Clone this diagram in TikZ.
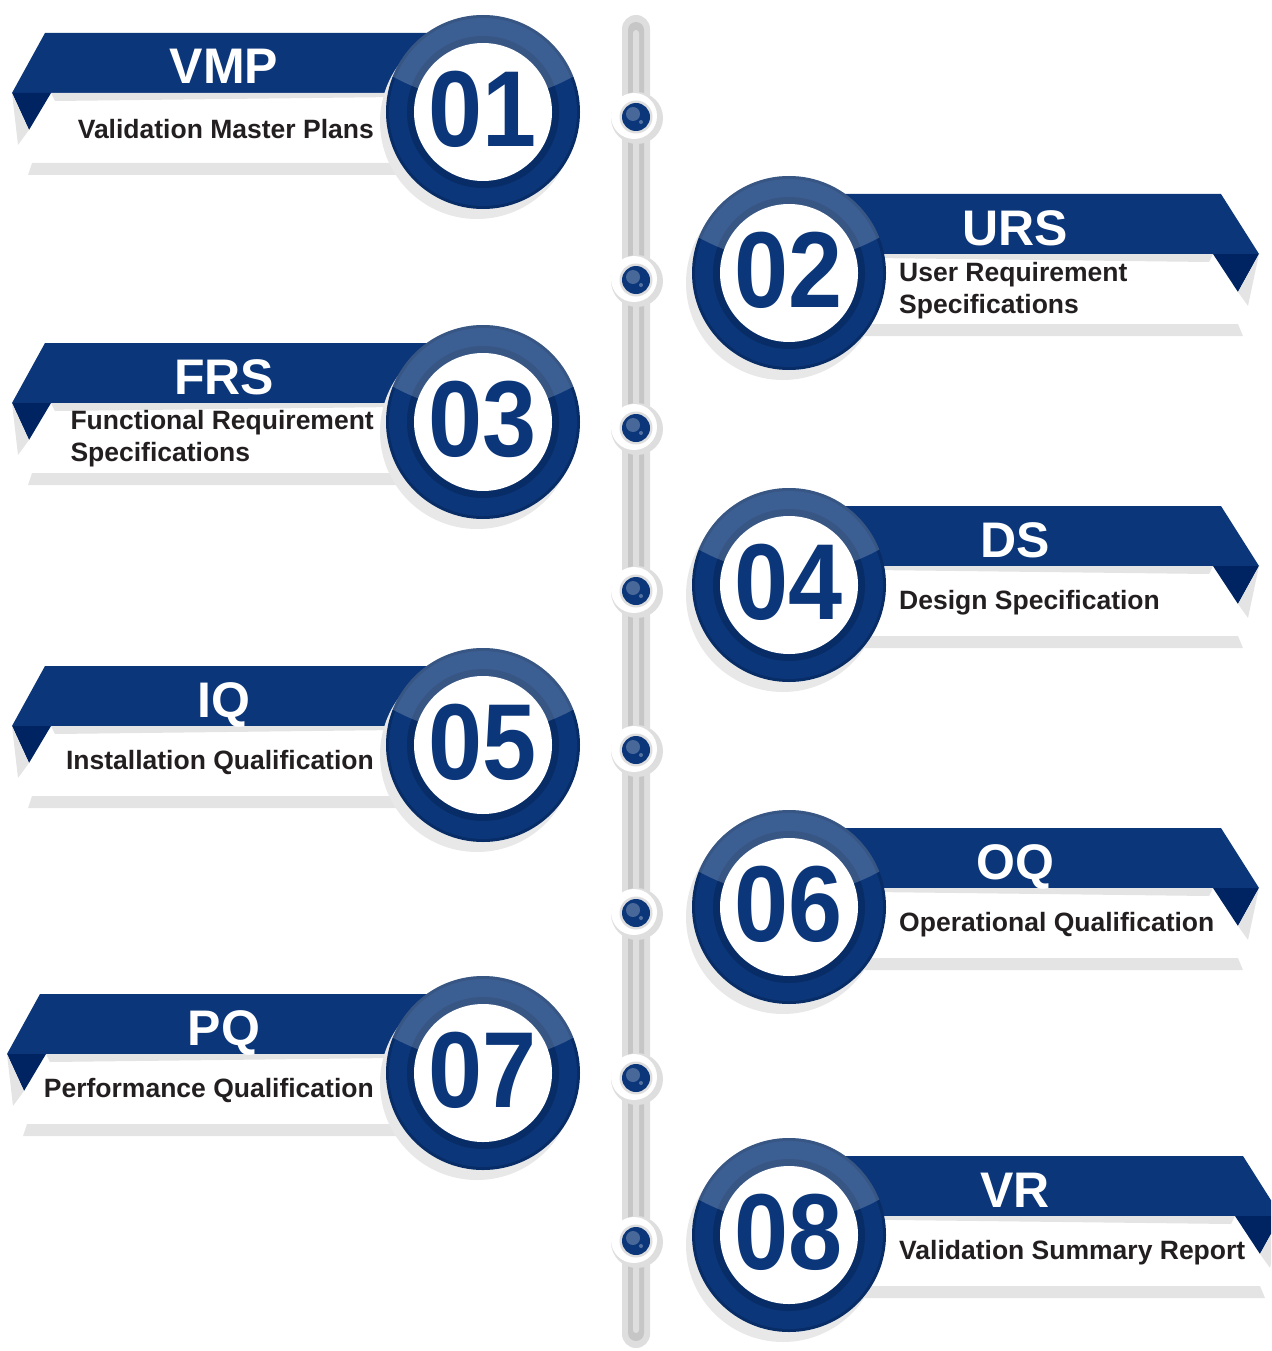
\documentclass[tikz,border=0pt]{standalone}
\usepackage{fontspec}
\setmainfont{Liberation Sans}
\usepackage{tikz}
\usetikzlibrary{positioning}
\usepackage{xcolor}
\definecolor{vpblue}{RGB}{11,54,121}
\definecolor{vpfold}{RGB}{0,36,98}
\definecolor{vpedge}{RGB}{7,44,102}
\definecolor{vpgray}{RGB}{228,228,228}
\definecolor{vpshadow}{RGB}{232,232,232}
\definecolor{vptext}{RGB}{35,31,32}
\definecolor{railout}{RGB}{222,222,222}
\definecolor{railin}{RGB}{198,198,198}
\tikzstyle{stagetitle} = [text=white, font=\bfseries\fontsize{50}{50}\selectfont, anchor=base, inner sep=0pt]
\tikzstyle{stagecaption} = [text=vptext, font=\bfseries\fontsize{26.5}{32}\selectfont, align=left, inner sep=0pt]
\tikzstyle{stagedigits} = [text=vpblue, font=\bfseries\fontsize{108}{108}\selectfont, inner sep=0pt]

% round badge with number
\newcommand{\badge}[2]{%
  \fill[vpshadow] (-6,10) circle (97pt);
  \fill[vpedge] (0,0) circle (97pt);
  \fill[vpblue] (0,0) circle (94pt);
  \fill[vpedge] (0,0) circle (76pt);
  \begin{scope}
    \clip (0,0) circle (97pt);
    \fill[white, opacity=0.2] (0,-197) circle (185pt);
  \end{scope}
  \fill[white] (0,0) circle (69pt);
  \node[stagedigits] (#1num) at (0,-3) {\scalebox{0.9}[1]{#2}};}

% left stage: name, centre, number, title, caption, banner shift
\newcommand{\leftstage}[6]{%
  \begin{scope}[shift={(#2)}]
  \begin{scope}[xshift=#6]
    \fill[vpblue] (-438,-79) -- (0,-79) -- (0,-19) -- (-471,-19) -- cycle;
    \fill[vpfold] (-471,-19) -- (-432,-19) -- (-454,18) -- cycle;
    \fill[vpgray] (-471,-19) -- (-454,18) -- (-465,33) -- cycle;
    \fill[vpgray] (-432,-19) -- (0,-19) -- (0,-16) -- (-428,-11) -- cycle;
    \fill[vpgray] (-451,51) -- (0,51) -- (0,63) -- (-455,63) -- cycle;
  \end{scope}
  \badge{#1}{#3}
  \node[stagetitle] (#1title) at (-259,-28) {#4};
  \node[stagecaption, anchor=east] (#1text) at (-109,17) {#5};
  \end{scope}}

% right stage: name, centre, number, title, caption, banner shift
\newcommand{\rightstage}[6]{%
  \begin{scope}[shift={(#2)}]
  \begin{scope}[xshift=#6]
    \fill[vpblue] (0,-79) -- (432,-79) -- (470,-19) -- (0,-19) -- cycle;
    \fill[vpfold] (470,-19) -- (424,-19) -- (449,19) -- cycle;
    \fill[vpgray] (470,-19) -- (449,19) -- (459,33) -- cycle;
    \fill[vpgray] (424,-19) -- (0,-19) -- (0,-16) -- (420,-11) -- cycle;
    \fill[vpgray] (0,51) -- (449,51) -- (454,63) -- (0,63) -- cycle;
  \end{scope}
  \badge{#1}{#3}
  \node[stagetitle] (#1title) at (226,-28) {#4};
  \node[stagecaption, anchor=west] (#1text) at (110,18) {#5};
  \end{scope}}

% dot on the rail
\newcommand{\raildot}[1]{%
  \fill[railout] (637,#1+1) circle (26pt);
  \fill[white] (634,#1-1) circle (23pt);
  \fill[railout] (636,#1) circle (16.5pt);
  \fill[vpblue] (636,#1) circle (14pt);
  \fill[white, opacity=0.25] (633,#1-3) circle (7pt);
  \fill[white, opacity=0.3] (641,#1+5) circle (2pt);}

\begin{document}
\begin{tikzpicture}[x=1pt, y=-1pt]
\clip (0,0) rectangle (1271,1351);

% rail
\fill[railout, rounded corners=14pt] (622,15) rectangle (650,1348);
\fill[railin, rounded corners=8pt] (628,22) rectangle (644,1341);
\fill[railout, rounded corners=3pt] (633,30) rectangle (639,1333);
\raildot{117}
\raildot{280}
\raildot{428}
\raildot{591}
\raildot{750}
\raildot{913}
\raildot{1078}
\raildot{1241}

% stages
\leftstage{vmp}{483,112}{01}{VMP}{Validation Master Plans}{0}
\rightstage{urs}{789,273}{02}{URS}{User Requirement\\Specifications}{0}
\leftstage{frs}{483,422}{03}{FRS}{Functional Requirement\\Specifications}{0}
\rightstage{ds}{789,585}{04}{DS}{Design Specification}{0}
\leftstage{iq}{483,745}{05}{IQ}{Installation Qualification}{0}
\rightstage{oq}{789,907}{06}{OQ}{Operational Qualification}{0}
\leftstage{pq}{483,1073}{07}{PQ}{Performance Qualification}{-5}
\rightstage{vr}{789,1235}{08}{VR}{Validation Summary Report}{22}
\end{tikzpicture}
\end{document}
